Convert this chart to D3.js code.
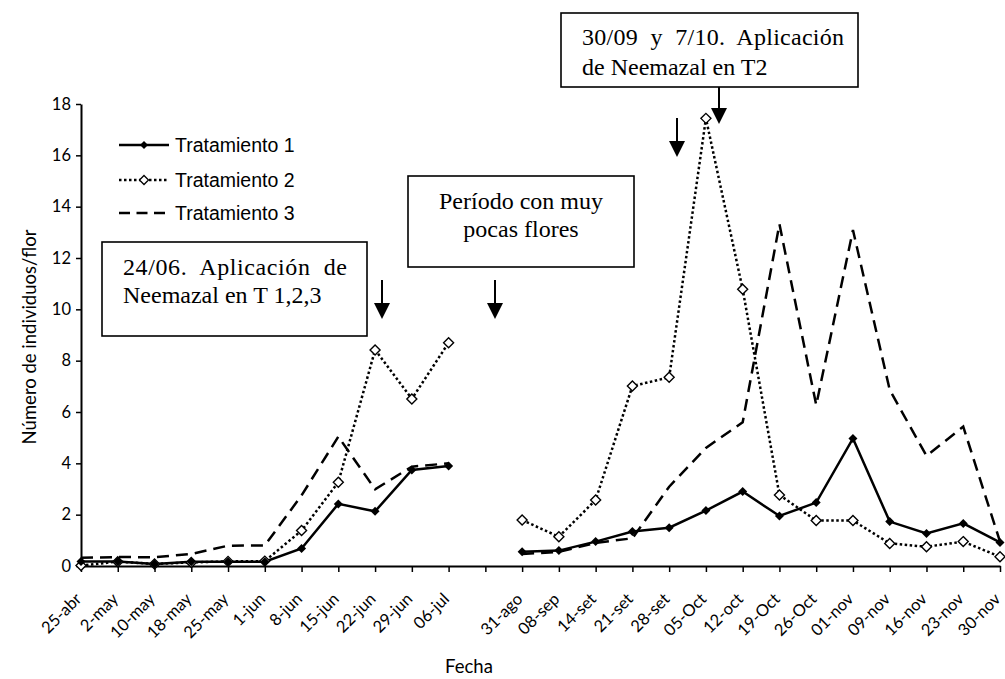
<!DOCTYPE html>
<html>
<head>
<meta charset="utf-8">
<script src="https://cdn.jsdelivr.net/npm/d3@7"></script>
<style>
  body { margin: 0; background: #fff; }
  svg { display: block; }
</style>
</head>
<body>
<svg id="chart" width="1005" height="679"></svg>
<script>
// Sampling dates (the empty entry is the period with almost no flowers)
const fechas = ["25-abr","2-may","10-may","18-may","25-may","1-jun","8-jun","15-jun","22-jun","29-jun","06-jul","",
  "31-ago","08-sep","14-set","21-set","28-set","05-Oct","12-oct","19-Oct","26-Oct","01-nov","09-nov","16-nov","23-nov","30-nov"];

// Individuals per flower for each treatment
const tratamiento1 = [0.18,0.18,0.08,0.17,0.17,0.17,0.68,2.42,2.13,3.74,3.90,null,
  0.56,0.60,0.95,1.34,1.49,2.16,2.90,1.95,2.47,4.97,1.73,1.27,1.66,0.92];
const tratamiento2 = [0.02,0.17,0.08,0.14,0.18,0.19,1.38,3.26,8.42,6.51,8.70,null,
  1.79,1.14,2.57,7.01,7.35,17.44,10.78,2.77,1.77,1.77,0.88,0.75,0.95,0.36];
const tratamiento3 = [0.32,0.35,0.34,0.47,0.79,0.80,2.75,5.04,2.99,3.87,4.00,null,
  0.47,0.55,0.90,1.08,3.09,4.60,5.60,13.32,6.27,13.09,6.86,4.29,5.43,0.95];

const yTicks = [0,2,4,6,8,10,12,14,16,18];
const serieNombres = ["Tratamiento 1","Tratamiento 2","Tratamiento 3"];

const svg = d3.select("#chart");
const plotLeft = 81, plotRight = 1000, plotTop = 104, plotBottom = 566;

const x = d3.scalePoint().domain(fechas).range([plotLeft, plotRight]);
const y = d3.scaleLinear().domain([0, 18]).range([plotBottom, plotTop]);

const tickFont = "Lato, 'Open Sans', sans-serif";

// Y axis
const yAxis = svg.append("g")
  .attr("transform", `translate(${plotLeft},0)`)
  .call(d3.axisLeft(y).tickValues(yTicks).tickSize(5).tickSizeOuter(0).tickPadding(5));
yAxis.select(".domain").attr("stroke", "#000").attr("stroke-width", 2);
yAxis.selectAll(".tick line").attr("stroke", "#000").attr("stroke-width", 1.5);
yAxis.selectAll(".tick text").attr("font-family", tickFont).attr("font-size", 16.5).attr("fill", "#000");

// X axis
const xAxis = svg.append("g")
  .attr("transform", `translate(0,${plotBottom})`)
  .call(d3.axisBottom(x).tickSize(6).tickSizeOuter(0));
xAxis.select(".domain").attr("stroke", "#000").attr("stroke-width", 2);
xAxis.selectAll(".tick line").attr("stroke", "#000").attr("stroke-width", 1.5);
xAxis.selectAll(".tick text")
  .attr("font-family", tickFont).attr("font-size", 16.5).attr("fill", "#000")
  .attr("text-anchor", "end")
  .attr("dy", "0.35em")
  .attr("transform", "translate(-3,30) rotate(-45)")
  .attr("y", 0).attr("x", 0);

// Axis titles
svg.append("text")
  .attr("transform", `translate(36,${(plotTop + plotBottom) / 2 + 2}) rotate(-90)`)
  .attr("text-anchor", "middle")
  .attr("font-family", tickFont).attr("font-size", 18.5)
  .text("Número de individuos/flor");
svg.append("text")
  .attr("x", 469).attr("y", 673)
  .attr("text-anchor", "middle")
  .attr("font-family", tickFont).attr("font-size", 18.5)
  .text("Fecha");

// Lines
const series = [tratamiento1, tratamiento2, tratamiento3];
const styles = [
  { dash: null, width: 2.5 },
  { dash: "2.5,2.5", width: 2.5 },
  { dash: "12,7", width: 2.5 }
];
const line = d3.line()
  .defined(d => d.v != null)
  .x(d => x(d.f))
  .y(d => y(d.v));

series.forEach((vals, i) => {
  const pts = vals.map((v, j) => ({ f: fechas[j], v }));
  svg.append("path")
    .datum(pts)
    .attr("fill", "none")
    .attr("stroke", "#000")
    .attr("stroke-width", styles[i].width)
    .attr("stroke-linejoin", "miter")
    .attr("stroke-dasharray", styles[i].dash)
    .attr("d", line);
});

function diamond(r) { return `M0,${-r}L${r},0L0,${r}L${-r},0Z`; }

// Markers: filled diamonds for T1, open diamonds for T2
const pts1 = tratamiento1.map((v, j) => ({ f: fechas[j], v })).filter(d => d.v != null);
const pts2 = tratamiento2.map((v, j) => ({ f: fechas[j], v })).filter(d => d.v != null);

svg.append("g").selectAll("path").data(pts2).join("path")
  .attr("d", diamond(5))
  .attr("transform", d => `translate(${x(d.f)},${y(d.v)})`)
  .attr("fill", "#fff").attr("stroke", "#000").attr("stroke-width", 1.4);
svg.append("g").selectAll("path").data(pts1).join("path")
  .attr("d", diamond(4.5))
  .attr("transform", d => `translate(${x(d.f)},${y(d.v)})`)
  .attr("fill", "#000");

// Legend
const legend = svg.append("g");
const legRows = [145, 180, 213];
serieNombres.forEach((name, i) => {
  const ly = legRows[i];
  legend.append("line")
    .attr("x1", 119).attr("x2", 169).attr("y1", ly).attr("y2", ly)
    .attr("stroke", "#000").attr("stroke-width", 2.5)
    .attr("stroke-dasharray", i === 1 ? "2.5,2.5" : i === 2 ? "11,6.5" : null);
  if (i === 0) legend.append("path").attr("d", diamond(4)).attr("transform", `translate(144,${ly})`).attr("fill", "#000");
  if (i === 1) legend.append("path").attr("d", diamond(4.5)).attr("transform", `translate(144,${ly})`)
    .attr("fill", "#fff").attr("stroke", "#000").attr("stroke-width", 1.3);
  legend.append("text")
    .attr("x", 175).attr("y", ly).attr("dy", "0.35em")
    .attr("font-family", "'Liberation Sans', Arial, sans-serif").attr("font-size", 19.5)
    .text(name);
});

// Annotation boxes
const serif = "'Liberation Serif', 'Times New Roman', serif";
function box(x0, y0, x1, y1) {
  svg.append("rect").attr("x", x0).attr("y", y0).attr("width", x1 - x0).attr("height", y1 - y0)
    .attr("fill", "#fff").attr("stroke", "#000").attr("stroke-width", 1.6);
}
function txt(s, tx, ty, opts = {}) {
  const t = svg.append("text").attr("x", tx).attr("y", ty)
    .attr("font-family", serif).attr("font-size", 24)
    .attr("text-anchor", opts.anchor || "start")
    .attr("xml:space", "preserve")
    .text(s);
  if (opts.width) t.attr("textLength", opts.width).attr("lengthAdjust", "spacing");
}
function arrow(ax, y0, y1) {
  svg.append("line").attr("x1", ax).attr("x2", ax).attr("y1", y0).attr("y2", y1 - 12)
    .attr("stroke", "#000").attr("stroke-width", 2);
  svg.append("path").attr("d", `M${ax - 8},${y1 - 16}L${ax + 8},${y1 - 16}L${ax},${y1}Z`).attr("fill", "#000");
}

box(102, 242, 367, 336);
txt("24/06.  Aplicación  de", 123, 275, { width: 224 });
txt("Neemazal en T 1,2,3", 123, 303);

box(408, 176, 634, 267);
txt("Período con muy", 521, 209, { anchor: "middle" });
txt("pocas flores", 521, 237, { anchor: "middle" });

box(561, 13, 858, 87);
txt("30/09  y  7/10.  Aplicación", 582, 45, { width: 262 });
txt("de Neemazal en T2", 582, 75);

arrow(382, 280, 319);
arrow(495, 280, 319);
arrow(677, 118, 157);
arrow(719, 87, 124);
</script>
</body>
</html>
